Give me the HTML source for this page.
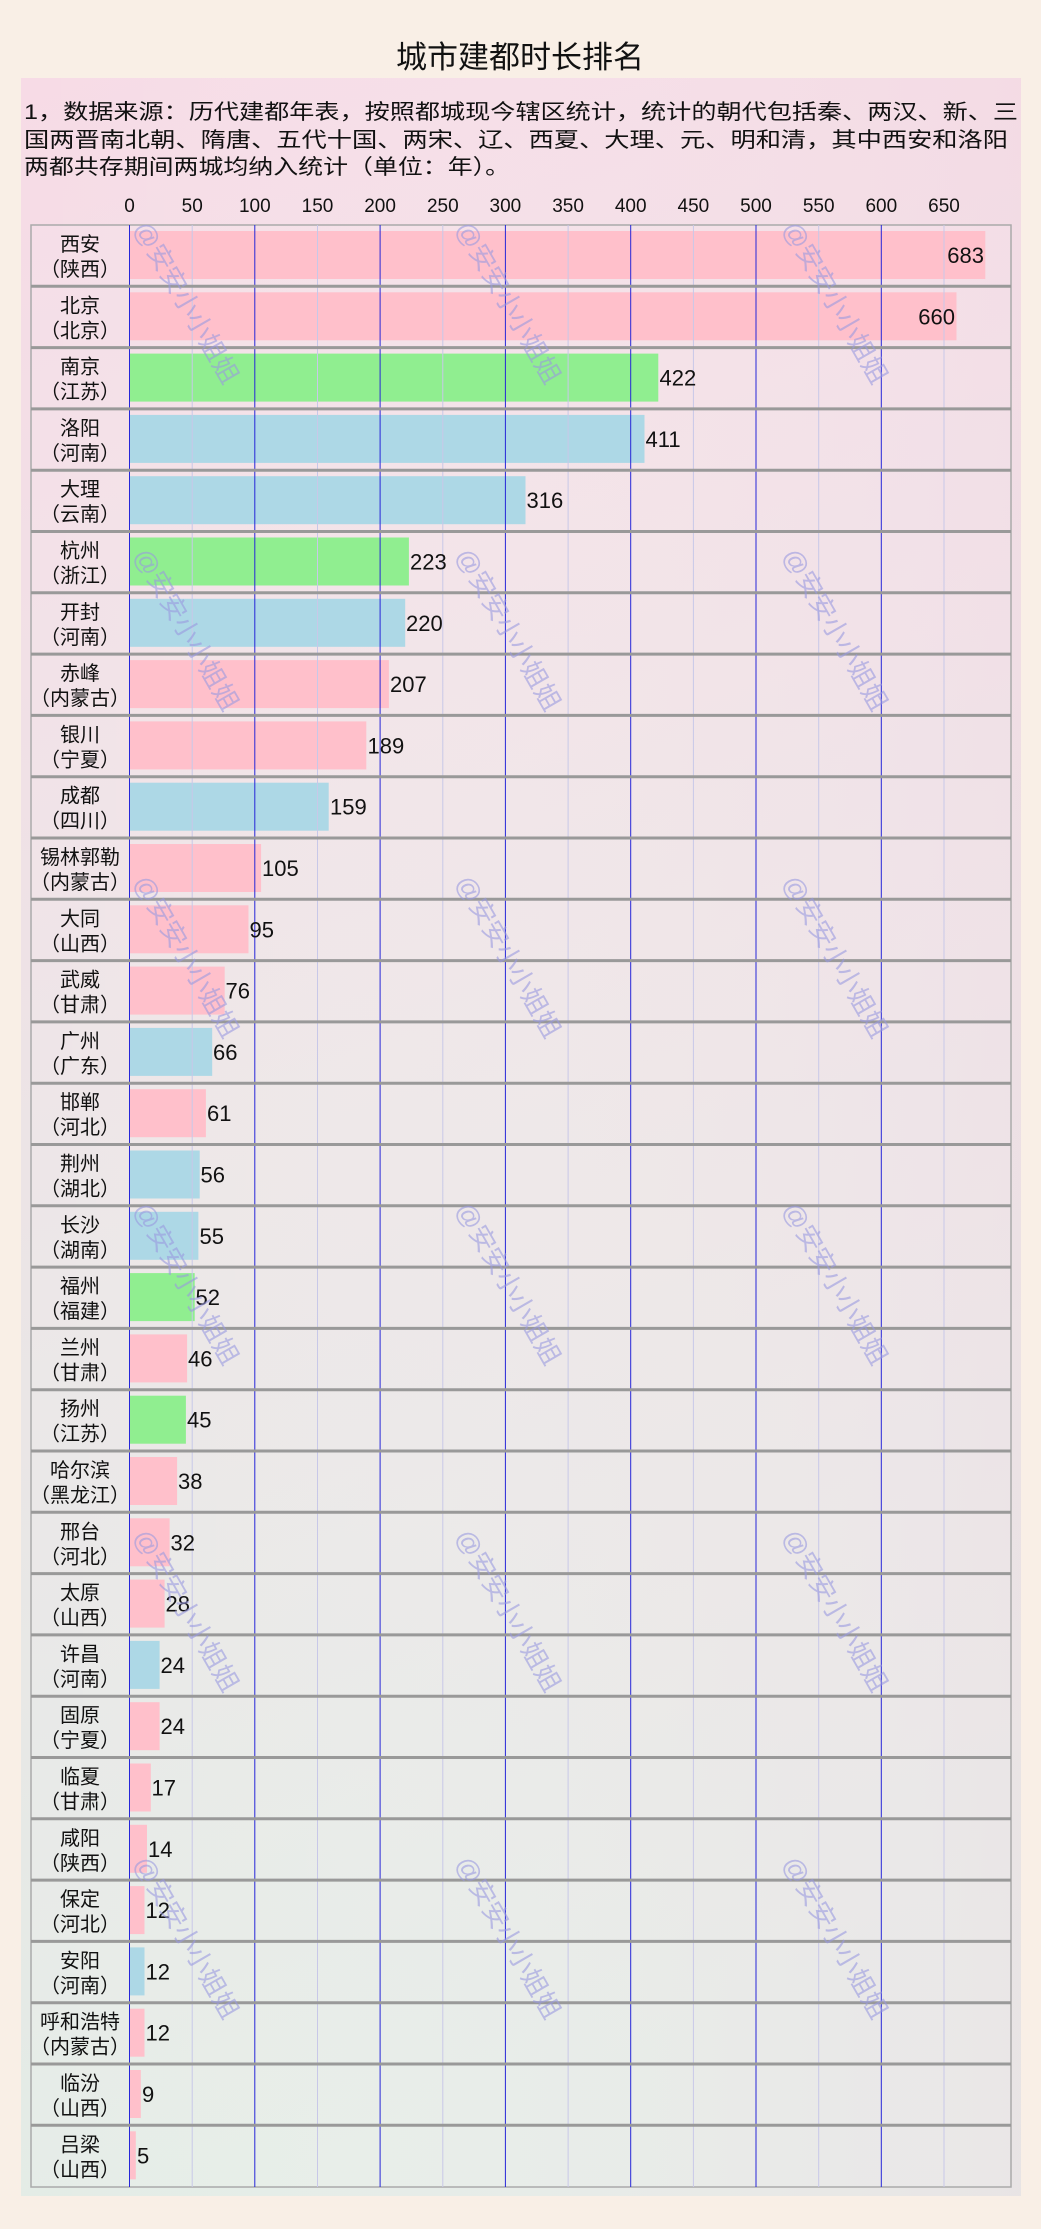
<!DOCTYPE html>
<html><head><meta charset="utf-8"><style>
html,body{margin:0;padding:0;background:#f9efe6;}
svg{display:block;font-family:"Liberation Sans","Noto Sans CJK SC",sans-serif;}
</style></head><body>
<svg width="1041" height="2229" viewBox="0 0 1041 2229" xmlns="http://www.w3.org/2000/svg">
<defs>
<linearGradient id="pg" x1="0" y1="0" x2="0.15" y2="1">
<stop offset="0" stop-color="#f7dbe6"/><stop offset="0.5" stop-color="#ece4e6"/><stop offset="1" stop-color="#e3ece6"/>
</linearGradient>
<linearGradient id="pr" x1="0" y1="0" x2="1" y2="0">
<stop offset="0" stop-color="#fff" stop-opacity="0"/><stop offset="1" stop-color="#f3d6e2" stop-opacity="0.35"/>
</linearGradient>
</defs>
<rect x="0" y="0" width="1041" height="2229" fill="#f9efe6"/>
<text x="520" y="68" font-size="31" text-anchor="middle" fill="#111">城市建都时长排名</text>
<rect x="21" y="78" width="1000" height="2118" fill="url(#pg)"/>
<rect x="21" y="78" width="1000" height="2118" fill="url(#pr)"/>
<g font-size="21" fill="#111">
<text x="24" y="119" textLength="994" lengthAdjust="spacingAndGlyphs">1，数据来源：历代建都年表，按照都城现今辖区统计，统计的朝代包括秦、两汉、新、三</text>
<text x="24" y="147" textLength="984" lengthAdjust="spacingAndGlyphs">国两晋南北朝、隋唐、五代十国、两宋、辽、西夏、大理、元、明和清，其中西安和洛阳</text>
<text x="24" y="174" textLength="486" lengthAdjust="spacingAndGlyphs">两都共存期间两城均纳入统计（单位：年）。</text>
</g>
<g font-size="19" fill="#111" text-anchor="middle">
<text x="129.5" y="212">0</text><text x="192.2" y="212">50</text><text x="254.8" y="212">100</text><text x="317.5" y="212">150</text><text x="380.1" y="212">200</text><text x="442.8" y="212">250</text><text x="505.4" y="212">300</text><text x="568.1" y="212">350</text><text x="630.7" y="212">400</text><text x="693.4" y="212">450</text><text x="756" y="212">500</text><text x="818.7" y="212">550</text><text x="881.3" y="212">600</text><text x="944" y="212">650</text>
</g>
<rect x="31" y="225" width="980" height="1962" fill="#fff" fill-opacity="0.08" stroke="#aaa" stroke-width="1.5"/>
<g id="bars">
<rect x="129.5" y="231" width="855.8" height="48" fill="#ffc0cb"/>
<rect x="129.5" y="292.3" width="827" height="48" fill="#ffc0cb"/>
<rect x="129.5" y="353.6" width="528.8" height="48" fill="#90ee90"/>
<rect x="129.5" y="414.9" width="515" height="48" fill="#add8e6"/>
<rect x="129.5" y="476.2" width="396" height="48" fill="#add8e6"/>
<rect x="129.5" y="537.5" width="279.4" height="48" fill="#90ee90"/>
<rect x="129.5" y="598.8" width="275.7" height="48" fill="#add8e6"/>
<rect x="129.5" y="660.1" width="259.4" height="48" fill="#ffc0cb"/>
<rect x="129.5" y="721.4" width="236.8" height="48" fill="#ffc0cb"/>
<rect x="129.5" y="782.7" width="199.2" height="48" fill="#add8e6"/>
<rect x="129.5" y="844" width="131.6" height="48" fill="#ffc0cb"/>
<rect x="129.5" y="905.3" width="119" height="48" fill="#ffc0cb"/>
<rect x="129.5" y="966.6" width="95.2" height="48" fill="#ffc0cb"/>
<rect x="129.5" y="1027.9" width="82.7" height="48" fill="#add8e6"/>
<rect x="129.5" y="1089.2" width="76.4" height="48" fill="#ffc0cb"/>
<rect x="129.5" y="1150.5" width="70.2" height="48" fill="#add8e6"/>
<rect x="129.5" y="1211.8" width="68.9" height="48" fill="#add8e6"/>
<rect x="129.5" y="1273.1" width="65.2" height="48" fill="#90ee90"/>
<rect x="129.5" y="1334.4" width="57.6" height="48" fill="#ffc0cb"/>
<rect x="129.5" y="1395.7" width="56.4" height="48" fill="#90ee90"/>
<rect x="129.5" y="1457" width="47.6" height="48" fill="#ffc0cb"/>
<rect x="129.5" y="1518.3" width="40.1" height="48" fill="#ffc0cb"/>
<rect x="129.5" y="1579.6" width="35.1" height="48" fill="#ffc0cb"/>
<rect x="129.5" y="1640.9" width="30.1" height="48" fill="#add8e6"/>
<rect x="129.5" y="1702.2" width="30.1" height="48" fill="#ffc0cb"/>
<rect x="129.5" y="1763.5" width="21.3" height="48" fill="#ffc0cb"/>
<rect x="129.5" y="1824.8" width="17.5" height="48" fill="#ffc0cb"/>
<rect x="129.5" y="1886.1" width="15" height="48" fill="#ffc0cb"/>
<rect x="129.5" y="1947.4" width="15" height="48" fill="#add8e6"/>
<rect x="129.5" y="2008.7" width="15" height="48" fill="#ffc0cb"/>
<rect x="129.5" y="2070" width="11.3" height="48" fill="#ffc0cb"/>
<rect x="129.5" y="2131.3" width="6.3" height="48" fill="#ffc0cb"/>
</g>
<g stroke-width="1">
<g stroke="#c8c8e8">
<line x1="192.2" y1="225" x2="192.2" y2="2187"/><line x1="317.5" y1="225" x2="317.5" y2="2187"/><line x1="442.8" y1="225" x2="442.8" y2="2187"/><line x1="568.1" y1="225" x2="568.1" y2="2187"/><line x1="693.4" y1="225" x2="693.4" y2="2187"/><line x1="818.7" y1="225" x2="818.7" y2="2187"/><line x1="944" y1="225" x2="944" y2="2187"/>
</g>
<g stroke="#2626d8">
<line x1="129.5" y1="225" x2="129.5" y2="2187"/><line x1="254.8" y1="225" x2="254.8" y2="2187"/><line x1="380.1" y1="225" x2="380.1" y2="2187"/><line x1="505.4" y1="225" x2="505.4" y2="2187"/><line x1="630.7" y1="225" x2="630.7" y2="2187"/><line x1="756" y1="225" x2="756" y2="2187"/><line x1="881.3" y1="225" x2="881.3" y2="2187"/>
</g>
</g>
<g stroke="#999" stroke-width="3">
<line x1="31" y1="286.3" x2="1011" y2="286.3"/><line x1="31" y1="347.6" x2="1011" y2="347.6"/><line x1="31" y1="408.9" x2="1011" y2="408.9"/><line x1="31" y1="470.2" x2="1011" y2="470.2"/><line x1="31" y1="531.5" x2="1011" y2="531.5"/><line x1="31" y1="592.8" x2="1011" y2="592.8"/><line x1="31" y1="654.1" x2="1011" y2="654.1"/><line x1="31" y1="715.4" x2="1011" y2="715.4"/><line x1="31" y1="776.7" x2="1011" y2="776.7"/><line x1="31" y1="838" x2="1011" y2="838"/><line x1="31" y1="899.3" x2="1011" y2="899.3"/><line x1="31" y1="960.6" x2="1011" y2="960.6"/><line x1="31" y1="1021.9" x2="1011" y2="1021.9"/><line x1="31" y1="1083.2" x2="1011" y2="1083.2"/><line x1="31" y1="1144.5" x2="1011" y2="1144.5"/><line x1="31" y1="1205.8" x2="1011" y2="1205.8"/><line x1="31" y1="1267.1" x2="1011" y2="1267.1"/><line x1="31" y1="1328.4" x2="1011" y2="1328.4"/><line x1="31" y1="1389.7" x2="1011" y2="1389.7"/><line x1="31" y1="1451" x2="1011" y2="1451"/><line x1="31" y1="1512.3" x2="1011" y2="1512.3"/><line x1="31" y1="1573.6" x2="1011" y2="1573.6"/><line x1="31" y1="1634.9" x2="1011" y2="1634.9"/><line x1="31" y1="1696.2" x2="1011" y2="1696.2"/><line x1="31" y1="1757.5" x2="1011" y2="1757.5"/><line x1="31" y1="1818.8" x2="1011" y2="1818.8"/><line x1="31" y1="1880.1" x2="1011" y2="1880.1"/><line x1="31" y1="1941.4" x2="1011" y2="1941.4"/><line x1="31" y1="2002.7" x2="1011" y2="2002.7"/><line x1="31" y1="2064" x2="1011" y2="2064"/><line x1="31" y1="2125.3" x2="1011" y2="2125.3"/>
</g>
<g font-size="20" fill="#111" text-anchor="middle">
<text x="80" y="251">西安</text><text x="80" y="276">（陕西）</text>
<text x="80" y="312.3">北京</text><text x="80" y="337.3">（北京）</text>
<text x="80" y="373.6">南京</text><text x="80" y="398.6">（江苏）</text>
<text x="80" y="434.9">洛阳</text><text x="80" y="459.9">（河南）</text>
<text x="80" y="496.2">大理</text><text x="80" y="521.2">（云南）</text>
<text x="80" y="557.5">杭州</text><text x="80" y="582.5">（浙江）</text>
<text x="80" y="618.8">开封</text><text x="80" y="643.8">（河南）</text>
<text x="80" y="680.1">赤峰</text><text x="80" y="705.1">（内蒙古）</text>
<text x="80" y="741.4">银川</text><text x="80" y="766.4">（宁夏）</text>
<text x="80" y="802.7">成都</text><text x="80" y="827.7">（四川）</text>
<text x="80" y="864">锡林郭勒</text><text x="80" y="889">（内蒙古）</text>
<text x="80" y="925.3">大同</text><text x="80" y="950.3">（山西）</text>
<text x="80" y="986.6">武威</text><text x="80" y="1011.6">（甘肃）</text>
<text x="80" y="1047.9">广州</text><text x="80" y="1072.9">（广东）</text>
<text x="80" y="1109.2">邯郸</text><text x="80" y="1134.2">（河北）</text>
<text x="80" y="1170.5">荆州</text><text x="80" y="1195.5">（湖北）</text>
<text x="80" y="1231.8">长沙</text><text x="80" y="1256.8">（湖南）</text>
<text x="80" y="1293.1">福州</text><text x="80" y="1318.1">（福建）</text>
<text x="80" y="1354.4">兰州</text><text x="80" y="1379.4">（甘肃）</text>
<text x="80" y="1415.7">扬州</text><text x="80" y="1440.7">（江苏）</text>
<text x="80" y="1477">哈尔滨</text><text x="80" y="1502">（黑龙江）</text>
<text x="80" y="1538.3">邢台</text><text x="80" y="1563.3">（河北）</text>
<text x="80" y="1599.6">太原</text><text x="80" y="1624.6">（山西）</text>
<text x="80" y="1660.9">许昌</text><text x="80" y="1685.9">（河南）</text>
<text x="80" y="1722.2">固原</text><text x="80" y="1747.2">（宁夏）</text>
<text x="80" y="1783.5">临夏</text><text x="80" y="1808.5">（甘肃）</text>
<text x="80" y="1844.8">咸阳</text><text x="80" y="1869.8">（陕西）</text>
<text x="80" y="1906.1">保定</text><text x="80" y="1931.1">（河北）</text>
<text x="80" y="1967.4">安阳</text><text x="80" y="1992.4">（河南）</text>
<text x="80" y="2028.7">呼和浩特</text><text x="80" y="2053.7">（内蒙古）</text>
<text x="80" y="2090">临汾</text><text x="80" y="2115">（山西）</text>
<text x="80" y="2151.3">吕梁</text><text x="80" y="2176.3">（山西）</text>
</g>
<g font-size="22" fill="#111">
<text x="984" y="263" text-anchor="end">683</text>
<text x="955" y="324.3" text-anchor="end">660</text>
<text x="659.5" y="385.6">422</text>
<text x="645.5" y="446.9">411</text>
<text x="526.5" y="508.2">316</text>
<text x="410" y="569.5">223</text>
<text x="406" y="630.8">220</text>
<text x="390" y="692.1">207</text>
<text x="367.5" y="753.4">189</text>
<text x="330" y="814.7">159</text>
<text x="262" y="876">105</text>
<text x="249.5" y="937.3">95</text>
<text x="225.5" y="998.6">76</text>
<text x="213" y="1059.9">66</text>
<text x="207" y="1121.2">61</text>
<text x="200.5" y="1182.5">56</text>
<text x="199.5" y="1243.8">55</text>
<text x="195.5" y="1305.1">52</text>
<text x="188" y="1366.4">46</text>
<text x="187" y="1427.7">45</text>
<text x="178" y="1489">38</text>
<text x="170.5" y="1550.3">32</text>
<text x="165.5" y="1611.6">28</text>
<text x="160.5" y="1672.9">24</text>
<text x="160.5" y="1734.2">24</text>
<text x="151.5" y="1795.5">17</text>
<text x="148" y="1856.8">14</text>
<text x="145.5" y="1918.1">12</text>
<text x="145.5" y="1979.4">12</text>
<text x="145.5" y="2040.7">12</text>
<text x="142" y="2102">9</text>
<text x="137" y="2163.3">5</text>
</g>
<g font-size="26" fill="#9a9ae0" fill-opacity="0.6">
<text transform="translate(133,228) rotate(60)">@安安小小姐姐</text>
<text transform="translate(455,228) rotate(60)">@安安小小姐姐</text>
<text transform="translate(782,228) rotate(60)">@安安小小姐姐</text>
<text transform="translate(133,555) rotate(60)">@安安小小姐姐</text>
<text transform="translate(455,555) rotate(60)">@安安小小姐姐</text>
<text transform="translate(782,555) rotate(60)">@安安小小姐姐</text>
<text transform="translate(133,882) rotate(60)">@安安小小姐姐</text>
<text transform="translate(455,882) rotate(60)">@安安小小姐姐</text>
<text transform="translate(782,882) rotate(60)">@安安小小姐姐</text>
<text transform="translate(133,1209) rotate(60)">@安安小小姐姐</text>
<text transform="translate(455,1209) rotate(60)">@安安小小姐姐</text>
<text transform="translate(782,1209) rotate(60)">@安安小小姐姐</text>
<text transform="translate(133,1536) rotate(60)">@安安小小姐姐</text>
<text transform="translate(455,1536) rotate(60)">@安安小小姐姐</text>
<text transform="translate(782,1536) rotate(60)">@安安小小姐姐</text>
<text transform="translate(133,1863) rotate(60)">@安安小小姐姐</text>
<text transform="translate(455,1863) rotate(60)">@安安小小姐姐</text>
<text transform="translate(782,1863) rotate(60)">@安安小小姐姐</text>
</g>
</svg>
</body></html>
